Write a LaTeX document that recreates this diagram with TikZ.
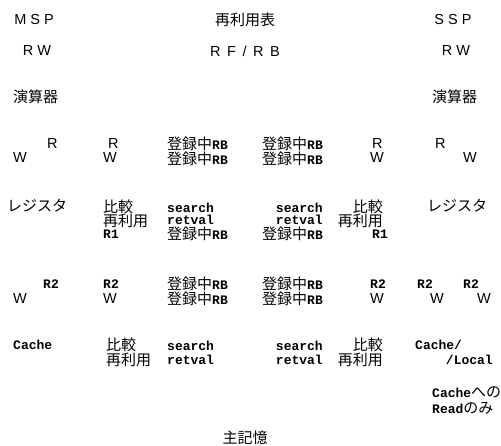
\documentclass[tikz,border=0pt]{standalone}
\usepackage{fontspec}
\setmainfont{Liberation Sans}
\setmonofont{Liberation Mono}
\newfontfamily\jpfont{Noto Sans CJK JP}
\newcommand{\mono}[1]{{\ttfamily\bfseries\fontsize{13}{13}\selectfont #1}}
\newcommand{\gap}{\hspace{0.45em}}
\begin{document}
\begin{tikzpicture}[x=1pt,y=-1pt,every node/.style={inner sep=0pt,anchor=west,font=\fontsize{14.5}{14.5}\selectfont},jp/.style={font=\jpfont\fontsize{15}{15}\selectfont},tt/.style={font=\ttfamily\bfseries\fontsize{13}{13}\selectfont}]
\useasboundingbox (0,0) rectangle (501,445);
% headings
\node[anchor=center] (msp) at (34,20) {M S P};
\node[jp,anchor=center] (table) at (245,20) {再利用表};
\node[anchor=center] (ssp) at (453,20) {S S P};
\node[anchor=center] (msprw) at (37,51) {R W};
\node[anchor=center] (rfrb) at (245,51) {R\gap F\gap /\gap R\gap B};
\node[anchor=center] (ssprw) at (456,51) {R W};
\node[jp] (malu) at (13,97) {演算器};
\node[jp] (salu) at (432,97) {演算器};
% alu -- register
\node (r1a) at (47,144) {R};
\node (w1a) at (13,158) {W};
\node (r1b) at (108,144) {R};
\node (w1b) at (103,158) {W};
\node[jp] (reg1a) at (167,144) {登録中\mono{RB}};
\node[jp] (reg1b) at (167,159) {登録中\mono{RB}};
\node[jp] (reg1c) at (262,144) {登録中\mono{RB}};
\node[jp] (reg1d) at (262,159) {登録中\mono{RB}};
\node (r1c) at (372,144) {R};
\node (w1c) at (370,158) {W};
\node (r1d) at (435,144) {R};
\node (w1d) at (463,158) {W};
% registers
\node[jp] (mreg) at (7,206) {レジスタ};
\node[jp] (cmp1a) at (103,207) {比較};
\node[jp] (reuse1a) at (103,221) {再利用};
\node[tt] (ra) at (103,234) {R1};
\node[tt] (srch1a) at (167,208) {search};
\node[tt] (ret1a) at (167,220) {retval};
\node[jp] (reg2a) at (167,234) {登録中\mono{RB}};
\node[tt,anchor=east] (srch1b) at (323,208) {search};
\node[tt,anchor=east] (ret1b) at (323,220) {retval};
\node[jp] (reg2b) at (262,234) {登録中\mono{RB}};
\node[jp,anchor=east] (cmp1b) at (383,207) {比較};
\node[jp,anchor=east] (reuse1b) at (383,221) {再利用};
\node[tt] (rb) at (372,234) {R1};
\node[jp] (sreg) at (427,206) {レジスタ};
% register -- cache
\node[tt] (r2a) at (43,284) {R2};
\node (w2a) at (13,299) {W};
\node[tt] (r2b) at (103,284) {R2};
\node (w2b) at (103,299) {W};
\node[jp] (reg3a) at (167,284) {登録中\mono{RB}};
\node[jp] (reg3b) at (167,299) {登録中\mono{RB}};
\node[jp] (reg3c) at (262,284) {登録中\mono{RB}};
\node[jp] (reg3d) at (262,299) {登録中\mono{RB}};
\node[tt] (r2c) at (370,284) {R2};
\node (w2c) at (370,299) {W};
\node[tt] (r2d) at (417,284) {R2};
\node (w2d) at (430,299) {W};
\node[tt] (r2e) at (463,284) {R2};
\node (w2e) at (477,299) {W};
% cache
\node[tt] (mcache) at (13,345) {Cache};
\node[jp] (cmp2a) at (106,345) {比較};
\node[jp] (reuse2a) at (106,360) {再利用};
\node[tt] (srch2a) at (167,346) {search};
\node[tt] (ret2a) at (167,360) {retval};
\node[tt,anchor=east] (srch2b) at (323,346) {search};
\node[tt,anchor=east] (ret2b) at (323,360) {retval};
\node[jp,anchor=east] (cmp2b) at (383,345) {比較};
\node[jp,anchor=east] (reuse2b) at (383,360) {再利用};
\node[tt] (scache) at (415,345) {Cache/};
\node[tt,anchor=east] (slocal) at (493,360) {/Local};
\node[jp] (note1) at (432,392) {\mono{Cache}への};
\node[jp] (note2) at (432,408) {\mono{Read}のみ};
\node[jp,anchor=center] (mem) at (245,438) {主記憶};
\end{tikzpicture}
\end{document}
